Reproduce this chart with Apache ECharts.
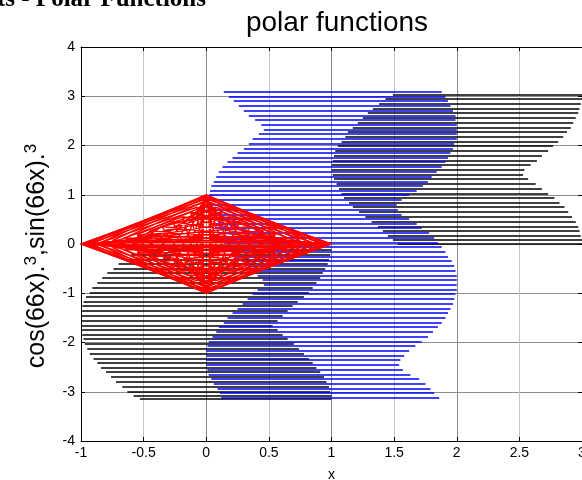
<!DOCTYPE html>
<html>
<head>
<meta charset="utf-8">
<script src="https://cdn.jsdelivr.net/npm/echarts@6/dist/echarts.min.js"></script>
<style>
  html, body { margin: 0; padding: 0; background: #fff; }
  #chart { width: 582px; height: 480px; }
</style>
</head>
<body>
<div id="chart"></div>
<script>
// Row heights of the hatched traces (one horizontal stroke per row)
const yRows = [3.09, 2.99, 2.90, 2.80, 2.71, 2.61, 2.52, 2.42, 2.32, 2.23, 2.13, 2.04, 1.94, 1.85, 1.75, 1.66, 1.56, 1.46, 1.37, 1.27, 1.18, 1.08, 0.99, 0.89, 0.80, 0.70, 0.60, 0.51, 0.41, 0.32, 0.22, 0.13, 0.03,
  -0.06, -0.16, -0.26, -0.35, -0.45, -0.54, -0.64, -0.73, -0.83, -0.93, -1.02, -1.12, -1.21, -1.31, -1.40, -1.50, -1.60, -1.69, -1.79, -1.88, -1.98, -2.07, -2.17, -2.27, -2.36, -2.46, -2.55, -2.65, -2.74, -2.84, -2.94, -3.03, -3.13];

// Blue trace: left and right ends of each stroke
const blueLeft = [0.14, 0.18, 0.22, 0.26, 0.30, 0.34, 0.39, 0.44, 0.46, 0.42, 0.37, 0.34, 0.30, 0.25, 0.21, 0.17, 0.13, 0.10, 0.08, 0.06, 0.04, 0.03, 0.02, 0.01, 0.00, 0.01, 0.02, 0.03, 0.05, 0.07, 0.09, 0.11, 0.14,
  0.17, 0.20, 0.24, 0.28, 0.33, 0.37, 0.41, 0.45, 0.46, 0.41, 0.37, 0.33, 0.29, 0.25, 0.21, 0.17, 0.14, 0.10, 0.08, 0.05, 0.02, 0.01, 0.00, 0.00, 0.00, 0.00, 0.01, 0.02, 0.04, 0.06, 0.09, 0.11, 0.12];
const blueRight = [1.88, 1.91, 1.93, 1.95, 1.97, 1.99, 1.99, 2.00, 2.00, 2.00, 2.00, 1.98, 1.97, 1.95, 1.93, 1.91, 1.88, 1.84, 1.80, 1.77, 1.73, 1.68, 1.62, 1.56, 1.52, 1.53, 1.56, 1.62, 1.68, 1.72, 1.78, 1.82, 1.85,
  1.88, 1.91, 1.93, 1.96, 1.98, 1.99, 2.00, 2.00, 2.00, 2.00, 1.99, 1.98, 1.97, 1.95, 1.93, 1.91, 1.88, 1.85, 1.81, 1.77, 1.72, 1.67, 1.62, 1.58, 1.55, 1.54, 1.57, 1.63, 1.70, 1.75, 1.79, 1.82, 1.86];

// Black trace: its rows sit between the blue ones
const yBlackRows = [3.04, 2.94, 2.85, 2.75, 2.66, 2.56, 2.47, 2.37, 2.27, 2.18, 2.08, 1.99, 1.89, 1.80, 1.70, 1.61, 1.51, 1.41, 1.32, 1.22, 1.13, 1.03, 0.94, 0.84, 0.75, 0.65, 0.55, 0.46, 0.36, 0.27, 0.17, 0.08, 0.01,
  -0.11, -0.21, -0.31, -0.40, -0.50, -0.59, -0.69, -0.78, -0.88, -0.98, -1.07, -1.17, -1.26, -1.36, -1.45, -1.55, -1.65, -1.74, -1.84, -1.93, -2.03, -2.12, -2.22, -2.32, -2.41, -2.51, -2.60, -2.70, -2.79, -2.89, -2.99, -3.08, -3.14];
const blackLeft = [1.49, 1.43, 1.38, 1.33, 1.29, 1.25, 1.21, 1.17, 1.13, 1.11, 1.08, 1.05, 1.03, 1.02, 1.01, 1.00, 1.00, 1.01, 1.02, 1.04, 1.06, 1.08, 1.10, 1.14, 1.17, 1.22, 1.27, 1.32, 1.37, 1.41, 1.45, 1.49, 1.53,
  -0.55, -0.60, -0.65, -0.70, -0.74, -0.79, -0.83, -0.87, -0.91, -0.93, -0.96, -0.98, -0.99, -1.00, -1.00, -1.00, -1.00, -1.00, -0.99, -0.98, -0.97, -0.95, -0.93, -0.90, -0.87, -0.84, -0.80, -0.76, -0.72, -0.67, -0.63, -0.58, -0.53];
const blackRight = [3.00, 3.00, 2.99, 2.98, 2.97, 2.95, 2.93, 2.91, 2.88, 2.85, 2.81, 2.77, 2.73, 2.68, 2.64, 2.59, 2.54, 2.53, 2.57, 2.63, 2.68, 2.73, 2.78, 2.82, 2.86, 2.89, 2.92, 2.95, 2.97, 2.98, 2.99, 3.00, 3.00,
  1.00, 0.99, 0.98, 0.97, 0.95, 0.93, 0.91, 0.88, 0.85, 0.82, 0.78, 0.73, 0.69, 0.65, 0.61, 0.57, 0.53, 0.57, 0.61, 0.65, 0.70, 0.74, 0.78, 0.82, 0.85, 0.88, 0.91, 0.94, 0.96, 0.98, 0.99, 1.00, 1.00];

// Red trace, inner web: long chords across the astroid, in drawing order
const redX = [1, -0.550, 0.040, 0.017, -0.450, 0.989, -0.650, 0.075, 0.005, -0.354, 0.955, -0.744, 0.125, 0.001, -0.266, 0.901, -0.830, 0.189, 0, -0.189, 0.830, -0.901, 0.266, -0.001, -0.125, 0.744, -0.955, 0.354, -0.005, -0.075, 0.650, -0.989, 0.450, -0.017, -0.040, 0.550, -1, 0.550, -0.040, -0.017, 0.450, -0.989, 0.650, -0.075, -0.005, 0.354, -0.955, 0.744, -0.125, -0.001, 0.266, -0.901, 0.830, -0.189, 0, 0.189, -0.830, 0.901, -0.266, 0.001, 0.125, -0.744, 0.955, -0.354, 0.005, 0.075, -0.650, 0.989, -0.450, 0.017, 0.040, -0.550, 1];
const redY = [0, 0.189, -0.830, 0.901, -0.266, 0.001, 0.125, -0.744, 0.955, -0.354, 0.005, 0.075, -0.650, 0.989, -0.450, 0.017, 0.040, -0.550, 1, -0.550, 0.040, 0.017, -0.450, 0.989, -0.650, 0.075, 0.005, -0.354, 0.955, -0.744, 0.125, 0.001, -0.266, 0.901, -0.830, 0.189, 0, -0.189, 0.830, -0.901, 0.266, -0.001, -0.125, 0.744, -0.955, 0.354, -0.005, -0.075, 0.650, -0.989, 0.450, -0.017, -0.040, 0.550, -1, 0.550, -0.040, -0.017, 0.450, -0.989, 0.650, -0.075, -0.005, 0.354, -0.955, 0.744, -0.125, -0.001, 0.266, -0.901, 0.830, -0.189, 0];

// Red trace, outer ring: three closed loops of shorter chords (25 points each)
const redRingX = [
  1, 0.017, -0.650, -0.354, 0.125, 0.901, 0, -0.901, -0.125, 0.354, 0.650, -0.017, -1, -0.017, 0.650, 0.354, -0.125, -0.901, 0, 0.901, 0.125, -0.354, -0.650, 0.017, 1,
  0.989, 0.005, -0.744, -0.266, 0.189, 0.830, -0.001, -0.955, -0.075, 0.450, 0.550, -0.040, -0.989, -0.005, 0.744, 0.266, -0.189, -0.830, 0.001, 0.955, 0.075, -0.450, -0.550, 0.040, 0.989,
  0.955, 0.001, -0.830, -0.189, 0.266, 0.744, -0.005, -0.989, -0.040, 0.550, 0.450, -0.075, -0.955, -0.001, 0.830, 0.189, -0.266, -0.744, 0.005, 0.989, 0.040, -0.550, -0.450, 0.075, 0.955];
const redRingY = [
  0, 0.901, 0.125, -0.354, -0.650, 0.017, 1, 0.017, -0.650, -0.354, 0.125, 0.901, 0, -0.901, -0.125, 0.354, 0.650, -0.017, -1, -0.017, 0.650, 0.354, -0.125, -0.901, 0,
  0.001, 0.955, 0.075, -0.450, -0.550, 0.040, 0.989, 0.005, -0.744, -0.266, 0.189, 0.830, -0.001, -0.955, -0.075, 0.450, 0.550, -0.040, -0.989, -0.005, 0.744, 0.266, -0.189, -0.830, 0.001,
  0.005, 0.989, 0.040, -0.550, -0.450, 0.075, 0.955, 0.001, -0.830, -0.189, 0.266, 0.744, -0.005, -0.989, -0.040, 0.550, 0.450, -0.075, -0.955, -0.001, 0.830, 0.189, -0.266, -0.744, 0.005];

const FONT = 'Liberation Sans';

function rows(ys, lefts, rights) {
  return ys.map((y, i) => ({ coords: [[lefts[i], y], [rights[i], y]] }));
}
function loops(xs, ys, size) {
  const out = [];
  for (let s = 0; s < xs.length; s += size) {
    out.push({ coords: xs.slice(s, s + size).map((x, i) => [x, ys[s + i]]) });
  }
  return out;
}

const chart = echarts.init(document.getElementById('chart'), null, { renderer: 'canvas' });

const frameLine = { show: true, onZero: false, lineStyle: { color: '#000', width: 1 } };
const frameTick = { show: true, inside: true, length: 4, lineStyle: { color: '#000' } };

chart.setOption({
  animation: false,
  backgroundColor: '#fff',
  title: {
    text: 'polar functions',
    left: 332, top: 4, textAlign: 'center',
    textStyle: { fontFamily: FONT, fontSize: 28, fontWeight: 'normal', color: '#000' }
  },
  graphic: [
    {
      type: 'text', x: 206, y: 12, silent: true,
      style: { text: 'Plots - Polar Functions', font: 'bold 25px "Liberation Serif"', fill: '#000', align: 'right', verticalAlign: 'bottom' }
    },
    {
      type: 'text', x: 36, y: 256, rotation: Math.PI / 2, silent: true,
      style: {
        text: '{a|cos(66x).}{s|3}{a|,sin(66x).}{s|3}',
        align: 'center', verticalAlign: 'middle', fill: '#000',
        rich: {
          a: { fontSize: 25, fontFamily: FONT, fill: '#000', verticalAlign: 'bottom', padding: [10, 0, 0, 0], lineHeight: 27 },
          s: { fontSize: 17, fontFamily: FONT, fill: '#000', verticalAlign: 'top', lineHeight: 18 }
        }
      }
    }
  ],
  grid: { left: 81, right: 0, top: 47, bottom: 39, containLabel: false, outerBoundsMode: 'none' },
  xAxis: [
    {
      type: 'value', min: -1, max: 3, interval: 0.5, position: 'bottom',
      axisLine: frameLine, axisTick: frameTick,
      axisLabel: { color: '#000', fontFamily: FONT, fontSize: 14, margin: 5, alignMinLabel: 'center', alignMaxLabel: 'center', hideOverlap: false },
      splitLine: { show: true, lineStyle: { color: ['#8a8a8a', '#c4c4c4'], width: 1 } },
      name: 'x', nameLocation: 'middle', nameGap: 27,
      nameTextStyle: { color: '#000', fontFamily: FONT, fontSize: 14 }
    },
    {
      type: 'value', min: -1, max: 3, interval: 0.5, position: 'top',
      axisLine: frameLine, axisTick: frameTick,
      axisLabel: { show: false }, splitLine: { show: false }
    }
  ],
  yAxis: [
    {
      type: 'value', min: -4, max: 4, interval: 1, position: 'left',
      axisLine: frameLine, axisTick: frameTick,
      axisLabel: { color: '#000', fontFamily: FONT, fontSize: 14, margin: 6 },
      splitLine: { show: true, lineStyle: { color: '#8e8e8e', width: 1 } }
    },
    {
      type: 'value', min: -4, max: 4, interval: 1, position: 'right',
      axisLine: frameLine, axisTick: frameTick,
      axisLabel: { show: false }, splitLine: { show: false }
    }
  ],
  series: [
    {
      name: 'black', type: 'lines', coordinateSystem: 'cartesian2d', xAxisIndex: 0, yAxisIndex: 0,
      silent: true, z: 2, polyline: false,
      lineStyle: { color: '#000', width: 1.6, opacity: 1 },
      data: rows(yBlackRows, blackLeft, blackRight)
    },
    {
      name: 'blue', type: 'lines', coordinateSystem: 'cartesian2d', xAxisIndex: 0, yAxisIndex: 0,
      silent: true, z: 3, polyline: false,
      lineStyle: { color: '#0000ff', width: 1.6, opacity: 1 },
      data: rows(yRows, blueLeft, blueRight)
    },
    {
      name: 'red ring', type: 'lines', coordinateSystem: 'cartesian2d', xAxisIndex: 0, yAxisIndex: 0,
      silent: true, z: 4, polyline: true,
      lineStyle: { color: '#ff0000', width: 1.4, opacity: 1 },
      data: loops(redRingX, redRingY, 25)
    },
    {
      name: 'red', type: 'line', xAxisIndex: 0, yAxisIndex: 0,
      silent: true, z: 4, showSymbol: false, symbol: 'none',
      lineStyle: { color: '#ff0000', width: 1.4 },
      data: redX.map((x, i) => [x, redY[i]])
    }
  ]
});
</script>
</body>
</html>
